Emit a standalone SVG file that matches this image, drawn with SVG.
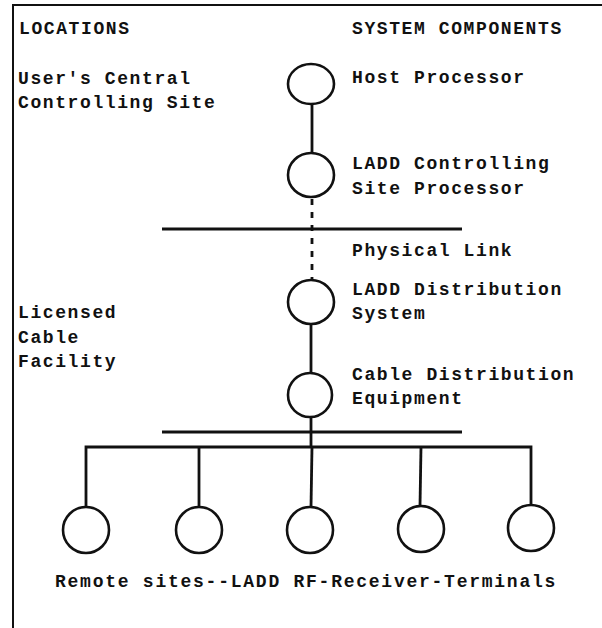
<svg xmlns="http://www.w3.org/2000/svg" width="602" height="628" viewBox="0 0 602 628">
<style>
  .t { font-family: "Liberation Mono", "DejaVu Sans Mono", monospace; font-size: 18px; font-weight: bold; letter-spacing: 1.6px; fill: #111; }
  .n { fill: #fff; stroke: #111; stroke-width: 2.6; }
  .c { stroke: #111; stroke-width: 2.8; fill: none; }
  .d { stroke: #111; stroke-width: 2.8; fill: none; stroke-dasharray: 6 7; }
  .b { stroke: #111; stroke-width: 2; fill: none; }
</style>
<rect width="602" height="628" fill="#fff"/>
<g id="frame">
  <path class="b" d="M13 628 V5 H602"/>
</g>
<g id="labels">
  <text class="t" x="19" y="34">LOCATIONS</text>
  <text class="t" x="352" y="34">SYSTEM COMPONENTS</text>
  <text class="t" x="18" y="84">User's Central</text>
  <text class="t" x="18" y="108">Controlling Site</text>
  <text class="t" x="18" y="318">Licensed</text>
  <text class="t" x="18" y="343">Cable</text>
  <text class="t" x="18" y="367">Facility</text>
  <text class="t" x="352" y="256">Physical Link</text>
  <text class="t" x="55" y="587" style="letter-spacing:1.75px">Remote sites--LADD RF-Receiver-Terminals</text>
</g>
<g id="connectors">
  <line class="c" x1="312" y1="103" x2="312" y2="153"/>
  <line class="d" x1="312" y1="199" x2="312" y2="280"/>
  <line class="c" x1="162" y1="229" x2="462" y2="229"/>
  <line class="c" x1="311" y1="324" x2="311" y2="373"/>
  <line class="c" x1="162" y1="432" x2="462" y2="432"/>
  <line class="c" x1="311" y1="417" x2="311" y2="447"/>
  <path class="c" d="M86 507 V447 H531 V506"/>
  <line class="c" x1="199" y1="447" x2="199" y2="507"/>
  <line class="c" x1="312" y1="447" x2="311" y2="507"/>
  <line class="c" x1="421" y1="447" x2="420" y2="506"/>
</g>
<g id="host">
  <ellipse class="n" cx="311" cy="84" rx="23" ry="20"/>
  <text class="t" x="352" y="83">Host Processor</text>
</g>
<g id="ladd-controlling">
  <ellipse class="n" cx="311" cy="175" rx="23" ry="22"/>
  <text class="t" x="352" y="169">LADD Controlling</text>
  <text class="t" x="352" y="194">Site Processor</text>
</g>
<g id="ladd-distribution">
  <ellipse class="n" cx="311" cy="302" rx="23" ry="22"/>
  <text class="t" x="352" y="295">LADD Distribution</text>
  <text class="t" x="352" y="319">System</text>
</g>
<g id="cable-distribution">
  <ellipse class="n" cx="310" cy="395" rx="22" ry="22"/>
  <text class="t" x="352" y="380">Cable Distribution</text>
  <text class="t" x="352" y="404">Equipment</text>
</g>
<g id="remote1"><ellipse class="n" cx="86" cy="530" rx="23" ry="23"/></g>
<g id="remote2"><ellipse class="n" cx="199" cy="530" rx="23" ry="23"/></g>
<g id="remote3"><ellipse class="n" cx="310" cy="530" rx="23" ry="23"/></g>
<g id="remote4"><ellipse class="n" cx="421" cy="529" rx="23" ry="23"/></g>
<g id="remote5"><ellipse class="n" cx="531" cy="528" rx="23" ry="23"/></g>
</svg>
